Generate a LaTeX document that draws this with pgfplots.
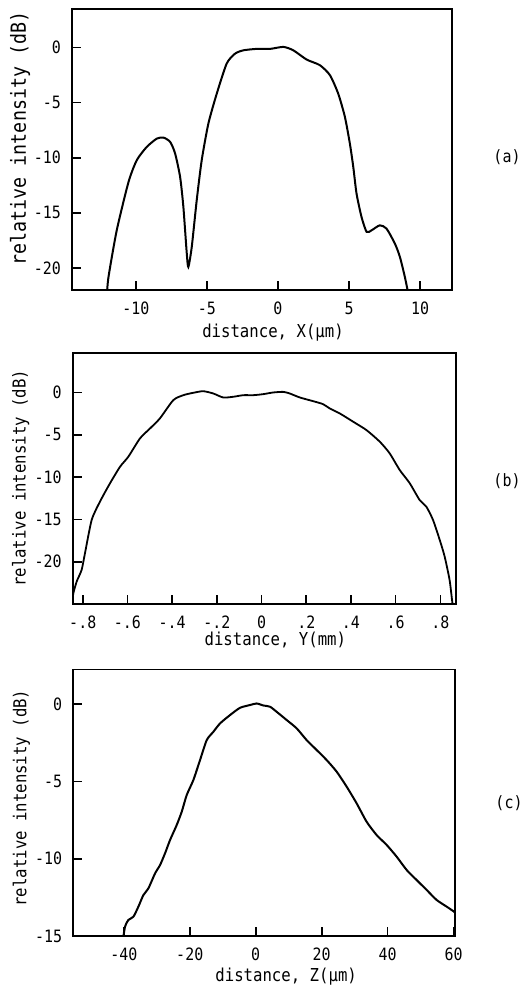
\documentclass[border=0pt]{standalone}
\usepackage{fontspec}
\setmainfont[FakeStretch=0.88]{DejaVu Sans Mono}
\usepackage{pgfplots}
\pgfplotsset{compat=1.18}
\pgfplotsset{myax/.style={
  scale only axis, anchor=south west,
  axis line style={line width=0.8pt},
  tick align=inside, xtick pos=lower, ytick pos=left,
  major tick length=4.5pt,
  every tick/.style={line width=0.8pt, black},
  tick label style={font=\fontsize{8.5}{10}\selectfont},
  label style={font=\fontsize{8.9}{10}\selectfont},
  xticklabel style={yshift=-2.5pt},
  yticklabel style={xshift=-2pt},
  xlabel style={at={(axis description cs:0.5,0)}, anchor=center},
}}
\begin{document}
\begin{tikzpicture}
\path[use as bounding box] (0,0) rectangle (265pt,-495pt);
% (a)
\begin{axis}[myax, at={(36pt,-145pt)}, width=190pt, height=140.5pt,
  xmin=-14.5, xmax=12.25, ymin=-22, ymax=3.5,
  xtick={-10,-5,0,5,10}, xticklabels={-10,-5,0,5,10},
  ytick={-20,-15,-10,-5,0}, yticklabels={-20,-15,-10,-5,0},
  xlabel={distance, X(µm)}, ylabel={relative intensity (dB)},
  xlabel style={yshift=-21.5pt, xshift=5.5pt},
  ylabel style={at={([xshift=-26pt,yshift=5.5pt]axis description cs:0,0.5)}, anchor=center, font=\fontsize{10.4}{12}\selectfont}]
\addplot[black, line width=1pt, smooth, tension=0.4] coordinates {
(-12.05,-22.5) (-11.93,-20.81) (-11.35,-16.58) (-10.52,-12.19) (-9.94,-10.22)
(-9.24,-9.02) (-8.53,-8.26) (-8.06,-8.17) (-7.59,-8.56) (-7.24,-9.62)
(-6.89,-11.74) (-6.66,-14.46) (-6.42,-18.70) (-6.31,-19.91) (-6.07,-18.09)
(-5.72,-13.85) (-5.37,-10.23) (-4.90,-6.90) (-4.31,-4.18) (-3.61,-1.45)
(-3.02,-0.55) (-2.44,-0.25) (-1.50,-0.12) (-0.56,-0.12) (0.38,0.06)
(1.08,-0.25) (2.02,-1.09) (2.95,-1.60) (3.66,-2.51) (4.24,-4.18)
(4.71,-6.29) (5.06,-8.71) (5.30,-10.83) (5.53,-13.25) (5.88,-15.37)
(6.24,-16.73) (6.59,-16.58) (7.17,-16.13) (7.64,-16.43) (8.23,-17.79)
(8.58,-18.99) (8.93,-20.81) (9.20,-22.5)
};
\end{axis}
% (b)
\begin{axis}[myax, at={(36.35pt,-302pt)}, width=191.65pt, height=125.65pt,
  xmin=-0.845, xmax=0.87, ymin=-25, ymax=4.7,
  xtick={-0.8,-0.6,-0.4,-0.2,0,0.2,0.4,0.6,0.8},
  xticklabels={-.8,-.6,-.4,-.2,0,.2,.4,.6,.8},
  ytick={-20,-15,-10,-5,0}, yticklabels={-20,-15,-10,-5,0},
  xlabel={distance, Y(mm)}, ylabel={relative intensity (dB)},
  xlabel style={yshift=-18pt, xshift=5.5pt},
  ylabel style={at={([xshift=-26pt]axis description cs:0,0.5)}, anchor=center}]
\addplot[black, line width=0.9pt, smooth, tension=0.4] coordinates {
(-0.845,-24.5) (-0.842,-23.71) (-0.827,-22.33) (-0.805,-20.96) (-0.790,-18.99)
(-0.760,-15.06) (-0.723,-12.90) (-0.678,-10.73) (-0.633,-8.77) (-0.596,-7.59)
(-0.544,-5.43) (-0.499,-4.25) (-0.455,-3.07) (-0.395,-0.91) (-0.350,-0.32)
(-0.306,-0.04) (-0.261,0.15) (-0.216,-0.12) (-0.172,-0.59) (-0.127,-0.51)
(-0.082,-0.32) (-0.037,-0.32) (0.007,-0.20) (0.052,0.00) (0.097,0.07)
(0.126,-0.12) (0.171,-0.59) (0.231,-1.03) (0.275,-1.38) (0.305,-1.89)
(0.350,-2.48) (0.410,-3.46) (0.469,-4.44) (0.529,-5.82) (0.573,-7.19)
(0.618,-9.16) (0.663,-10.73) (0.707,-12.70) (0.737,-13.49) (0.767,-15.06)
(0.797,-17.42) (0.819,-19.38) (0.841,-22.13) (0.852,-24.49) (0.857,-25.5)
};
\end{axis}
% (c)
\begin{axis}[myax, at={(36.65pt,-468pt)}, width=190.85pt, height=133.35pt,
  xmin=-55.3, xmax=60.4, ymin=-15, ymax=2.25,
  xtick={-40,-20,0,20,40,60}, xticklabels={-40,-20,0,20,40,60},
  ytick={-15,-10,-5,0}, yticklabels={-15,-10,-5,0},
  xlabel={distance, Z(µm)}, ylabel={relative intensity (dB)},
  xlabel style={yshift=-20.5pt, xshift=11pt},
  ylabel style={at={([xshift=-26pt,yshift=2.3pt]axis description cs:0,0.5)}, anchor=center}]
\addplot[black, line width=1pt, smooth, tension=0.4] coordinates {
(-40.3,-15.3) (-39.61,-14.39) (-38.60,-13.96) (-37.08,-13.75) (-35.57,-13.10)
(-34.05,-12.35) (-32.54,-11.92) (-30.52,-10.95) (-29.00,-10.41) (-27.49,-9.65)
(-25.97,-8.79) (-23.95,-7.82) (-22.43,-6.96) (-20.92,-5.88) (-18.90,-4.91)
(-16.88,-3.62) (-14.86,-2.33) (-12.84,-1.79) (-10.82,-1.25) (-7.79,-0.71)
(-4.76,-0.24) (-1.73,-0.06) (0.29,0.04) (2.31,-0.09) (4.33,-0.17)
(6.35,-0.50) (9.38,-1.03) (12.41,-1.57) (15.44,-2.33) (18.47,-2.97)
(21.50,-3.62) (24.53,-4.37) (27.56,-5.34) (30.59,-6.42) (33.62,-7.61)
(36.65,-8.47) (39.69,-9.11) (42.72,-9.87) (45.75,-10.73) (48.78,-11.38)
(51.81,-12.02) (54.84,-12.67) (57.87,-13.10) (60.09,-13.42) (60.4,-13.5)
};
\end{axis}
\node[font=\fontsize{8.5}{10}\selectfont] at (253.5pt,-78.5pt) {(a)};
\node[font=\fontsize{8.5}{10}\selectfont] at (253.5pt,-240.5pt) {(b)};
\node[font=\fontsize{8.5}{10}\selectfont] at (254.5pt,-401.5pt) {(c)};
\end{tikzpicture}
\end{document}
